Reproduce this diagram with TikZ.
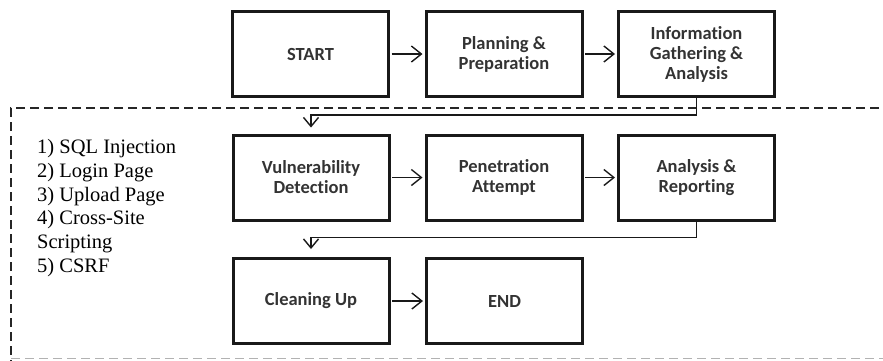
\documentclass[tikz,border=0pt]{standalone}
\usepackage{fontspec}
\setmainfont{Liberation Serif}
\newfontfamily\calib[Ligatures=NoCommon]{Carlito}
\usetikzlibrary{arrows.meta}
\begin{document}
\begin{tikzpicture}[x=1pt,y=-1pt,
  stepbox/.style={draw=black!90, line width=3pt, minimum width=156pt, minimum height=85pt,
    align=center, inner sep=0pt, font=\calib\bfseries\fontsize{18.5}{20}\selectfont, text=black!80},
  flow/.style={-{Straight Barb[length=10pt,width=16pt,line width=1.4pt]}, line width=1.4pt, black!90},
  conn/.style={-{Straight Barb[length=9pt,width=15pt,line width=1.4pt]}, line width=1.3pt, black!90},
  frame/.style={dashed, dash pattern=on 9pt off 5pt, line width=1.4pt, black!85},
  ]
\useasboundingbox (0,0) rectangle (883,360);
% dashed frame
\draw[frame] (893,108) -- (11,108) -- (11,362);
\draw[frame, black!30, line width=1pt] (11,358) -- (893,358);
% boxes
\node[stepbox] (start) at (310.5,54) {START};
\node[stepbox] (plan) at (504,54) {Planning \&\\Preparation};
\node[stepbox] (info) at (696.5,54) {Information\\Gathering \&\\Analysis};
\node[stepbox] (vuln) at (311,177.5) {Vulnerability\\Detection};
\node[stepbox] (pen) at (504,177.5) {Penetration\\Attempt};
\node[stepbox] (ana) at (696.5,177.5) {Analysis \&\\Reporting};
\node[stepbox] (clean) at (311,301) {Cleaning Up};
\node[stepbox] (end) at (504.5,301) {END};
% list
\node[anchor=north west, align=left, inner sep=0pt, font=\fontsize{20.5}{23.8}\selectfont]
  (list) at (37,139) {1) SQL Injection\\2) Login Page\\3) Upload Page\\4) Cross-Site\\Scripting\\5) CSRF};
% arrows
\draw[flow, shorten >=2pt, shorten <=1.5pt] (start) -- (plan);
\draw[flow, shorten >=2pt, shorten <=1.5pt] (plan) -- (info);
\draw[flow, shorten >=2pt, shorten <=1.5pt] (vuln) -- (pen);
\draw[flow, shorten >=2pt, shorten <=1.5pt] (pen) -- (ana);
\draw[flow, shorten >=2pt, shorten <=1.5pt] (clean) -- (end);
\draw[conn, shorten >=6pt] (info.south) -- ++(0,17) -| (vuln.north);
\draw[conn, shorten >=8pt] (ana.south) -- ++(0,16) -| (clean.north);
\end{tikzpicture}
\end{document}
